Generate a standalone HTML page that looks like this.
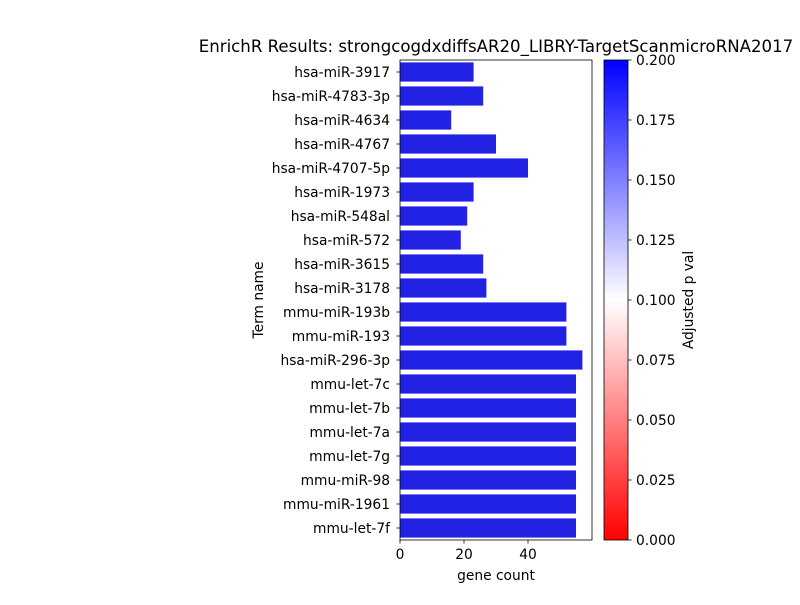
<!DOCTYPE html>
<html><head><meta charset="utf-8"><style>
body{margin:0;background:#fff;font-family:"Liberation Sans","DejaVu Sans",sans-serif}
svg text{font-family:"DejaVu Sans","Liberation Sans",sans-serif}
</style></head><body>
<svg id="chart" width="800" height="600" xmlns="http://www.w3.org/2000/svg">
<defs><linearGradient id="cb" x1="0" y1="1" x2="0" y2="0">
<stop offset="0" stop-color="#ff0000"/><stop offset="0.5" stop-color="#ffffff"/><stop offset="1" stop-color="#0000ff"/>
</linearGradient></defs>
<text x="496" y="52" font-size="16.6" text-anchor="middle">EnrichR Results: strongcogdxdiffsAR20_LIBRY-TargetScanmicroRNA2017</text>
<g id="bars"></g><g id="yticks"></g><g id="xticks"></g>
<rect x="400" y="60" width="192" height="480" fill="none" stroke="#000" stroke-width="0.8"/>
<text x="496" y="580" font-size="13.8" text-anchor="middle">gene count</text>
<text transform="translate(263,300) rotate(-90)" font-size="13.8" text-anchor="middle">Term name</text>
<rect x="604" y="60" width="24" height="480" fill="url(#cb)" stroke="#000" stroke-width="0.8"/>
<g id="cticks"></g>
<text transform="translate(693,300) rotate(-90)" font-size="13.8" text-anchor="middle">Adjusted p val</text>
</svg>
<script>
const terms=["hsa-miR-3917","hsa-miR-4783-3p","hsa-miR-4634","hsa-miR-4767","hsa-miR-4707-5p","hsa-miR-1973","hsa-miR-548al","hsa-miR-572","hsa-miR-3615","hsa-miR-3178","mmu-miR-193b","mmu-miR-193","hsa-miR-296-3p","mmu-let-7c","mmu-let-7b","mmu-let-7a","mmu-let-7g","mmu-miR-98","mmu-miR-1961","mmu-let-7f"];
const counts=[23,26,16,30,40,23,21,19,26,27,52,52,57,55,55,55,55,55,55,55];
const xTicks=[0,20,40];
const cTicks=[0,0.025,0.05,0.075,0.1,0.125,0.15,0.175,0.2];
const NS="http://www.w3.org/2000/svg";
const x=v=>400+v*3.2, slot=480/terms.length, y=i=>60+i*slot;
const cy=v=>540-v/0.2*480;
function mk(t,a,p){const e=document.createElementNS(NS,t);for(const k in a)e.setAttribute(k,a[k]);p.appendChild(e);return e;}
const bars=document.getElementById('bars'),yt=document.getElementById('yticks'),xt=document.getElementById('xticks'),ct=document.getElementById('cticks');
terms.forEach((t,i)=>{
 const r=mk('rect',{x:x(0),y:y(i)+slot*0.1,width:x(counts[i])-x(0),height:slot*0.8,fill:'#2222e4'},bars);
 
 
 const cyv=y(i)+slot/2;
 mk('line',{x1:396.5,x2:400,y1:cyv,y2:cyv,stroke:'#000','stroke-width':0.8},yt);
 const tx=mk('text',{x:390,y:cyv+5,'font-size':13.8,'text-anchor':'end'},yt);tx.textContent=t;
 
 
});
xTicks.forEach(v=>{
 mk('line',{x1:x(v),x2:x(v),y1:540,y2:543.5,stroke:'#000','stroke-width':0.8},xt);
 const tx=mk('text',{x:x(v),y:559,'font-size':13.8,'text-anchor':'middle'},xt);tx.textContent=v;
 
 
});
cTicks.forEach(v=>{
 mk('line',{x1:628,x2:631.5,y1:cy(v),y2:cy(v),stroke:'#000','stroke-width':0.8},ct);
 const tx=mk('text',{x:636,y:cy(v)+5,'font-size':13.8},ct);tx.textContent=v.toFixed(3);
 
 
});
</script>
</body></html>
